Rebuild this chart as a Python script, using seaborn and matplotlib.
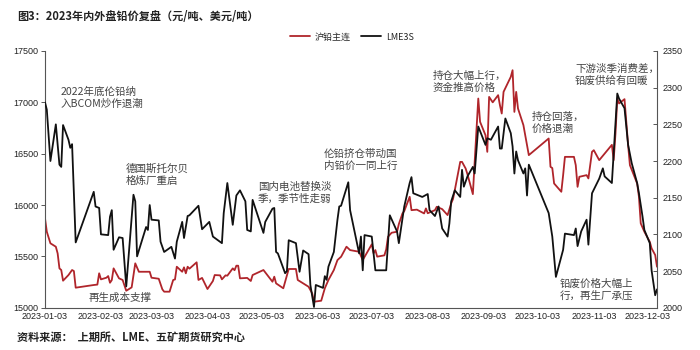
import matplotlib
matplotlib.use("Agg")
import matplotlib.pyplot as plt
import matplotlib.dates as mdates
import pandas as pd
import seaborn as sns

# LME 3-month lead (USD/t), right axis
lme_dates = [
    "2023-01-03", "2023-01-04", "2023-01-06", "2023-01-09", "2023-01-11", "2023-01-12", "2023-01-13", "2023-01-16", "2023-01-17", "2023-01-18", "2023-01-20",
    "2023-01-30", "2023-01-31", "2023-02-02", "2023-02-03", "2023-02-07", "2023-02-08", "2023-02-09", "2023-02-10", "2023-02-13", "2023-02-15", "2023-02-17",
    "2023-02-21", "2023-02-22", "2023-02-23", "2023-02-28", "2023-03-01", "2023-03-02", "2023-03-03", "2023-03-07", "2023-03-08", "2023-03-10", "2023-03-14",
    "2023-03-16", "2023-03-17", "2023-03-20", "2023-03-21", "2023-03-23", "2023-03-24", "2023-03-29", "2023-03-31", "2023-04-04", "2023-04-06", "2023-04-11",
    "2023-04-12", "2023-04-14", "2023-04-17", "2023-04-19", "2023-04-21", "2023-04-24", "2023-04-25", "2023-04-27", "2023-04-28",
    "2023-05-04", "2023-05-05", "2023-05-09", "2023-05-10", "2023-05-11", "2023-05-12", "2023-05-16", "2023-05-17", "2023-05-18", "2023-05-22", "2023-05-24",
    "2023-05-26", "2023-05-29", "2023-05-30", "2023-06-01", "2023-06-02", "2023-06-06", "2023-06-07", "2023-06-08", "2023-06-09", "2023-06-12", "2023-06-14",
    "2023-06-15", "2023-06-16", "2023-06-20", "2023-06-21", "2023-06-26", "2023-06-27", "2023-06-28", "2023-06-29", "2023-07-03", "2023-07-05", "2023-07-11",
    "2023-07-13", "2023-07-17", "2023-07-18", "2023-07-21", "2023-07-24", "2023-07-25", "2023-07-26", "2023-07-31", "2023-08-03", "2023-08-04", "2023-08-07",
    "2023-08-09", "2023-08-11", "2023-08-14", "2023-08-15", "2023-08-16", "2023-08-18", "2023-08-21", "2023-08-22", "2023-08-23", "2023-08-25", "2023-08-28",
    "2023-08-29", "2023-08-31", "2023-09-04", "2023-09-05", "2023-09-07", "2023-09-11", "2023-09-12", "2023-09-13", "2023-09-15", "2023-09-18", "2023-09-19",
    "2023-09-20", "2023-09-21", "2023-09-22", "2023-09-25", "2023-09-26", "2023-09-27", "2023-09-28", "2023-10-09", "2023-10-11", "2023-10-13", "2023-10-16",
    "2023-10-17", "2023-10-18", "2023-10-23", "2023-10-24", "2023-10-25", "2023-10-27", "2023-10-30", "2023-10-31", "2023-11-02", "2023-11-06", "2023-11-08",
    "2023-11-09", "2023-11-13", "2023-11-16", "2023-11-17", "2023-11-20", "2023-11-22", "2023-11-24", "2023-11-27", "2023-11-28", "2023-11-30", "2023-12-01",
    "2023-12-04", "2023-12-05", "2023-12-07", "2023-12-08",
]
lme_values = [
    2280, 2270, 2200, 2250, 2195, 2192, 2249, 2229, 2218, 2223, 2089,
    2158, 2138, 2136, 2100, 2099, 2124, 2133, 2079, 2096, 2095, 2029,
    2154, 2145, 2070, 2110, 2106, 2140, 2120, 2119, 2090, 2076, 2083,
    2067, 2090, 2117, 2095, 2125, 2126, 2139, 2107, 2117, 2097, 2088,
    2129, 2170, 2113, 2153, 2160, 2145, 2106, 2104, 2147,
    2102, 2117, 2135, 2136, 2076, 2074, 2047, 2050, 2092, 2088, 2049,
    2078, 2073, 2031, 2001, 2031, 2027, 2043, 2038, 2056, 2076, 2120,
    2138, 2139, 2171, 2133, 2074, 2097, 2051, 2099, 2097, 2051, 2051,
    2126, 2104, 2088, 2138, 2170, 2178, 2156, 2151, 2155, 2133, 2125,
    2138, 2108, 2097, 2115, 2145, 2160, 2151, 2188, 2165, 2179, 2192,
    2183, 2247, 2222, 2231, 2229, 2247, 2217, 2217, 2258, 2238, 2220,
    2183, 2213, 2201, 2183, 2190, 2153, 2195, 2129, 2097, 2042, 2070,
    2079, 2101, 2099, 2108, 2084, 2104, 2120, 2086, 2156, 2176, 2190,
    2179, 2170, 2292, 2285, 2272, 2222, 2197, 2170, 2156, 2124, 2106,
    2088, 2051, 2017, 2025,
]

# SHFE lead main contract (CNY/t), left axis
shfe_dates = [
    "2023-01-03", "2023-01-04", "2023-01-06", "2023-01-09", "2023-01-10", "2023-01-11", "2023-01-12", "2023-01-13", "2023-01-16", "2023-01-18", "2023-01-19",
    "2023-01-20", "2023-01-30", "2023-02-01", "2023-02-02", "2023-02-03", "2023-02-06", "2023-02-07", "2023-02-08", "2023-02-09", "2023-02-10", "2023-02-13",
    "2023-02-15", "2023-02-17", "2023-02-20", "2023-02-22", "2023-02-24", "2023-03-02", "2023-03-03", "2023-03-07", "2023-03-09", "2023-03-10", "2023-03-13",
    "2023-03-15", "2023-03-16", "2023-03-17", "2023-03-20", "2023-03-21", "2023-03-22", "2023-03-23", "2023-03-24", "2023-03-28", "2023-03-29", "2023-03-31",
    "2023-04-03", "2023-04-06", "2023-04-07", "2023-04-10", "2023-04-11", "2023-04-13", "2023-04-14", "2023-04-17", "2023-04-18", "2023-04-19", "2023-04-20",
    "2023-04-21", "2023-04-25", "2023-04-27", "2023-04-28", "2023-05-04", "2023-05-09", "2023-05-10", "2023-05-11", "2023-05-15", "2023-05-18", "2023-05-22",
    "2023-05-23", "2023-05-29", "2023-05-31", "2023-06-01", "2023-06-05", "2023-06-07", "2023-06-09", "2023-06-12", "2023-06-14", "2023-06-16", "2023-06-19",
    "2023-06-21", "2023-06-26", "2023-06-28", "2023-07-03", "2023-07-04", "2023-07-05", "2023-07-06", "2023-07-10", "2023-07-11", "2023-07-12", "2023-07-14",
    "2023-07-17", "2023-07-18", "2023-07-20", "2023-07-21", "2023-07-24", "2023-07-25", "2023-07-28", "2023-08-01", "2023-08-02", "2023-08-03", "2023-08-07",
    "2023-08-08", "2023-08-11", "2023-08-14", "2023-08-16", "2023-08-17", "2023-08-18", "2023-08-21", "2023-08-22", "2023-08-24", "2023-08-25", "2023-08-28",
    "2023-08-31", "2023-09-01", "2023-09-04", "2023-09-05", "2023-09-06", "2023-09-08", "2023-09-11", "2023-09-12", "2023-09-13", "2023-09-14", "2023-09-18",
    "2023-09-19", "2023-09-20", "2023-09-21", "2023-09-22", "2023-09-25", "2023-09-28", "2023-10-09", "2023-10-10", "2023-10-11", "2023-10-12", "2023-10-16",
    "2023-10-17", "2023-10-18", "2023-10-20", "2023-10-23", "2023-10-24", "2023-10-25", "2023-10-26", "2023-10-30", "2023-10-31", "2023-11-02", "2023-11-03",
    "2023-11-06", "2023-11-13", "2023-11-14", "2023-11-15", "2023-11-16", "2023-11-17", "2023-11-20", "2023-11-22", "2023-11-23", "2023-11-27", "2023-11-28",
    "2023-11-29", "2023-12-01", "2023-12-04", "2023-12-05", "2023-12-07", "2023-12-08",
]
shfe_values = [
    15870, 15740, 15627, 15594, 15529, 15383, 15367, 15263, 15318, 15367, 15357,
    15195, 15221, 15225, 15335, 15276, 15292, 15308, 15243, 15269, 15383, 15286,
    15270, 15165, 15198, 15432, 15350, 15350, 15292, 15282, 15179, 15156, 15156,
    15270, 15275, 15399, 15350, 15393, 15335, 15399, 15380, 15442, 15270, 15290,
    15182, 15260, 15318, 15315, 15276, 15315, 15312, 15383, 15365, 15409, 15409,
    15286, 15290, 15260, 15318, 15367, 15253, 15302, 15237, 15189, 15377, 15377,
    15270, 15204, 15140, 15058, 15068, 15189, 15270, 15367, 15464, 15496, 15594,
    15561, 15545, 15464, 15617, 15530, 15561, 15497, 15510, 15568, 15691, 15730,
    15740, 15814, 15918, 15941, 16080, 15950, 15955, 15918, 15967, 15920, 15950,
    15983, 15960, 15902, 16016, 16058, 16145, 16420, 16420, 16356, 16300, 16106,
    17037, 16810, 16680, 16518, 17053, 17000, 17070, 16972, 16891, 17102, 17248,
    17313, 16907, 17102, 16940, 16778, 16486, 16648, 16372, 16360, 16210, 16129,
    16291, 16469, 16469, 16469, 16388, 16177, 16275, 16291, 16259, 16518, 16534,
    16437, 16586, 16437, 16697, 17037, 16989, 17031, 16583, 16388, 16210, 16080,
    15821, 15740, 15642, 15578, 15513, 15399,
]

series_names = ["沪铅主连", "LME3S"]
series_colors = ["#B0252B", "#111111"]

notes = [
    "2022年底伦铅纳\n入BCOM炒作退潮",
    "德国斯托尔贝\n格炼厂重启",
    "再生成本支撑",
    "国内电池替换淡\n季，季节性走弱",
    "伦铅挤仓带动国\n内铅价一同上行",
    "持仓大幅上行，\n资金推高价格",
    "持仓回落，\n价格退潮",
    "下游淡季消费差，\n铅废供给有回暖",
    "铅废价格大幅上\n行，再生厂承压",
]
# figure-pixel anchors (left, top) for each note
note_xy = [(61, 87), (126, 164), (89, 293), (258, 182), (324, 149),
           (433, 71), (532, 112), (575, 64), (560, 279)]

title = "图3：2023年内外盘铅价复盘（元/吨、美元/吨）"
source = "资料来源：  上期所、LME、五矿期货研究中心"

sns.set_theme(style="white")
plt.rcParams["font.family"] = ["Noto Sans CJK SC", "DejaVu Sans"]

shfe = pd.DataFrame({"date": pd.to_datetime(shfe_dates), "price": shfe_values})
lme = pd.DataFrame({"date": pd.to_datetime(lme_dates), "price": lme_values})

W, H = 700, 350
fig = plt.figure(figsize=(7, 3.5), dpi=100)
ax = fig.add_axes([45 / W, 1 - 307.7 / H, (657 - 45) / W, (307.7 - 51) / H])
ax2 = ax.twinx()

sns.lineplot(data=shfe, x="date", y="price", ax=ax, color=series_colors[0],
             linewidth=1.3, label=series_names[0], legend=False, estimator=None)
sns.lineplot(data=lme, x="date", y="price", ax=ax2, color=series_colors[1],
             linewidth=1.3, label=series_names[1], legend=False, estimator=None)

ax.set_ylim(15000, 17500)
ax.set_yticks(range(15000, 17501, 500))
ax2.set_ylim(2000, 2350)
ax2.set_yticks(range(2000, 2351, 50))
ax.set_xlim(pd.Timestamp("2023-01-03"), pd.Timestamp("2023-12-08"))
ax.xaxis.set_major_locator(mdates.MonthLocator(bymonthday=3))
ax.xaxis.set_major_formatter(mdates.DateFormatter("%Y-%m-%d"))

for a in (ax, ax2):
    a.set_xlabel("")
    a.set_ylabel("")
    a.grid(False)
    a.set_facecolor("none")
    a.spines["top"].set_visible(False)
    for side in ("left", "right", "bottom"):
        a.spines[side].set_color("#555555")
        a.spines[side].set_linewidth(0.8)
ax.spines["right"].set_visible(False)
ax2.spines["left"].set_visible(False)
ax2.spines["bottom"].set_visible(False)

ax.tick_params(axis="y", direction="out", length=3, width=0.7, color="#555555", pad=2,
               labelsize=6.5, labelcolor="#222222")
ax.tick_params(axis="x", direction="in", length=3, width=0.7, color="#555555", pad=3,
               labelsize=6.5, labelcolor="#222222")
ax2.tick_params(axis="y", direction="in", length=3, width=0.7, color="#555555", pad=4,
                labelsize=6.5, labelcolor="#222222")
for lab in ax.get_xticklabels() + ax.get_yticklabels() + ax2.get_yticklabels():
    lab.set_fontfamily("Liberation Sans")

for text, (px, py) in zip(notes, note_xy):
    fig.text(px / W, 1 - py / H, text, ha="left", va="top", fontsize=7.6,
             color="#444444", linespacing=1.2)

fig.text(17 / W, 1 - 17 / H, title, ha="left", va="center", fontsize=8,
         color="#222222", fontweight="bold")
fig.text(17 / W, 1 - 337 / H, source, ha="left", va="center", fontsize=8,
         color="#222222", fontweight="bold")

handles = ax.get_lines()[:1] + ax2.get_lines()[:1]
fig.legend(handles, series_names, loc="center", bbox_to_anchor=(352 / W, 1 - 37 / H),
           ncol=2, frameon=False, fontsize=6.5, handlelength=2.2, columnspacing=1.2,
           handletextpad=0.5)

fig.savefig("out.png", dpi=100, facecolor="white")
